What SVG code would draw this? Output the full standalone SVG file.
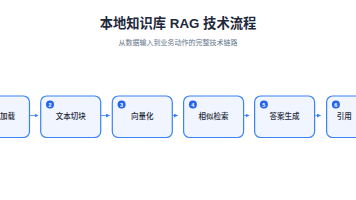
<svg xmlns="http://www.w3.org/2000/svg" width="356" height="200" viewBox="0 0 356 200">
<defs>
<style>
.t{font-family:"Liberation Sans","Noto Sans CJK SC",sans-serif}
.title{font-size:13.3px;font-weight:700;fill:#1e293b}
.sub{font-size:7px;fill:#64748b}
.box{fill:#f0f5ff;stroke:#3b82f6;stroke-width:1.2}
.lbl{font-size:7.5px;font-weight:500;fill:#1f2937;text-anchor:middle}
.edge{font-size:7.5px;font-weight:500;fill:#1f2937}
.bd{fill:#2563eb}
.bn{font-size:5.5px;font-weight:700;fill:#fff;text-anchor:middle}
.arr{stroke:#3b82f6;stroke-width:0.8;fill:none}
</style>
<marker id="ah" viewBox="0 0 4 4" refX="3.5" refY="2" markerWidth="4" markerHeight="4" markerUnits="userSpaceOnUse" orient="auto">
<path d="M0,0 L4,2 L0,4 Z" fill="#3b82f6"/>
</marker>
</defs>
<rect width="356" height="200" fill="#ffffff"/>
<text class="t title" x="178" y="27.5" text-anchor="middle">本地知识库 RAG 技术流程</text>
<text class="t sub" x="178" y="45" text-anchor="middle">从数据输入到业务动作的完整技术链路</text>
<g id="connectors">
<path class="arr" d="M30,115.5 H38" marker-end="url(#ah)"/>
<path class="arr" d="M101,115.5 H109.5" marker-end="url(#ah)"/>
<path class="arr" d="M172.5,115.5 H177.5" marker-end="url(#ah)"/>
<path class="arr" d="M244,115.5 H249" marker-end="url(#ah)"/>
<path class="arr" d="M315.5,115.5 H320.5" marker-end="url(#ah)"/>
</g>
<g id="node1">
<rect class="box" x="-31" y="96" width="60.5" height="41.5" rx="6"/>
<text class="t edge" x="0" y="119">加载</text>
</g>
<g id="node2">
<rect class="box" x="40.7" y="96" width="60" height="41.5" rx="6"/>
<circle class="bd" cx="50" cy="104.5" r="4"/>
<text class="t bn" x="50" y="106.5">2</text>
<text class="t lbl" x="70.7" y="119">文本切块</text>
</g>
<g id="node3">
<rect class="box" x="112.3" y="96" width="60" height="41.5" rx="6"/>
<circle class="bd" cx="121.6" cy="104.5" r="4"/>
<text class="t bn" x="121.6" y="106.5">3</text>
<text class="t lbl" x="142.3" y="119">向量化</text>
</g>
<g id="node4">
<rect class="box" x="183.6" y="96" width="60" height="41.5" rx="6"/>
<circle class="bd" cx="192.9" cy="104.5" r="4"/>
<text class="t bn" x="192.9" y="106.5">4</text>
<text class="t lbl" x="213.6" y="119">相似检索</text>
</g>
<g id="node5">
<rect class="box" x="254.6" y="96" width="60" height="41.5" rx="6"/>
<circle class="bd" cx="263.9" cy="104.5" r="4"/>
<text class="t bn" x="263.9" y="106.5">5</text>
<text class="t lbl" x="284.6" y="119">答案生成</text>
</g>
<g id="node6">
<rect class="box" x="326.6" y="96" width="60" height="41.5" rx="6"/>
<circle class="bd" cx="335.9" cy="104.5" r="4"/>
<text class="t bn" x="335.9" y="106.5">6</text>
<text class="t edge" x="336.7" y="119">引用</text>
</g>
</svg>
